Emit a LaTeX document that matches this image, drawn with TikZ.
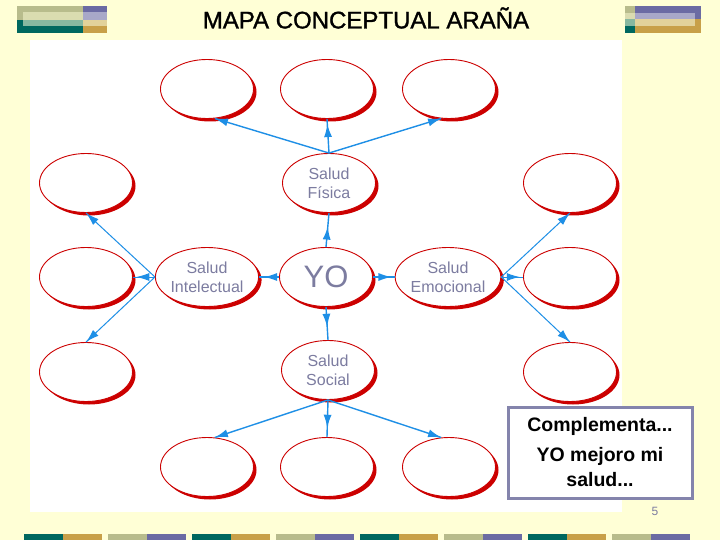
\documentclass[tikz,border=0pt]{standalone}
\usepackage{fontspec}
\setmainfont{Liberation Sans}
\newfontfamily\titlefont{Liberation Sans}[FakeBold=1.2]
\usetikzlibrary{shapes.geometric,arrows.meta,decorations.markings}
\definecolor{bgyellow}{HTML}{FFFFD6}
\definecolor{ered}{HTML}{CC0000}
\definecolor{ablue}{HTML}{1E8FE6}
\definecolor{tgray}{HTML}{7C7CA0}
\definecolor{sage}{HTML}{B8BC8C}
\definecolor{purp}{HTML}{6B6BA3}
\definecolor{pale}{HTML}{DADCB0}
\definecolor{lav}{HTML}{A8A8C8}
\definecolor{lteal}{HTML}{88B8A0}
\definecolor{ptan}{HTML}{E2D29A}
\definecolor{dteal}{HTML}{00685F}
\definecolor{gold}{HTML}{C8A048}
\definecolor{boxpurp}{HTML}{8484AC}
\tikzset{
  bub/.style={ellipse, draw=ered, line width=0.9pt, fill=white,
    minimum width=93pt, minimum height=59pt, inner sep=0pt,
    text=tgray, align=center, font=\fontsize{16}{19}\selectfont,
    preaction={fill=ered, transform canvas={xshift=3pt,yshift=-3pt}}},
  conn/.style={draw=ablue, line width=1.4pt, postaction={decorate},
    decoration={markings, mark=at position #1 with {\arrow[ablue]{Latex[length=13pt,width=8pt]}}}},
  conn/.default=1,
  thin/.style={line width=1pt}
}
\begin{document}
\begin{tikzpicture}[x=1pt,y=-1pt]
\fill[bgyellow] (0,0) rectangle (720,540);
\useasboundingbox (0,0) rectangle (720,540);
\fill[white] (30,40) rectangle (622,512);
% header blocks
\fill[sage] (17,6) rectangle (83,12); \fill[purp] (83,6) rectangle (107,12);
\fill[sage] (17,12) rectangle (23,20); \fill[pale] (23,12) rectangle (83,20); \fill[lav] (83,12) rectangle (107,20);
\fill[dteal] (17,20) rectangle (23,26); \fill[lteal] (23,20) rectangle (83,26); \fill[ptan] (83,20) rectangle (107,26);
\fill[dteal] (17,26) rectangle (83,33); \fill[gold] (83,26) rectangle (107,33);
\fill[sage] (625,6) rectangle (635,13); \fill[purp] (635,6) rectangle (701,13);
\fill[pale] (625,13) rectangle (635,19); \fill[lav] (635,13) rectangle (695,19); \fill[purp] (695,13) rectangle (701,19);
\fill[lteal] (625,19) rectangle (635,26); \fill[ptan] (635,19) rectangle (695,26); \fill[gold] (695,19) rectangle (701,26);
\fill[dteal] (625,26) rectangle (635,33); \fill[gold] (635,26) rectangle (701,33);
% footer
\foreach \i/\ca/\cb in {0/dteal/gold,1/sage/purp,2/dteal/gold,3/sage/purp,4/dteal/gold,5/sage/purp,6/dteal/gold,7/sage/purp}{
  \fill[\ca] ({24+84*\i},534) rectangle ({63+84*\i},540);
  \fill[\cb] ({63+84*\i},534) rectangle ({102+84*\i},540);
}
\node[font=\titlefont\fontsize{24}{28}\selectfont] (title) at (366,18) {MAPA CONCEPTUAL ARAÑA};
% bubbles
\node[bub] (t1) at (207,89) {};
\node[bub] (t2) at (327,89) {};
\node[bub] (t3) at (449,89) {};
\node[bub] (fis) at (329,183) {Salud\\Física};
\node[bub] (int) at (207,277) {Salud\\Intelectual};
\node[bub, font=\fontsize{31}{32}\selectfont] (yo) at (326,277) {YO};
\node[bub] (emo) at (448,277) {Salud\\Emocional};
\node[bub] (soc) at (328,370) {Salud\\Social};
\node[bub] (l1) at (86,183) {};
\node[bub] (l2) at (86,277) {};
\node[bub] (l3) at (86,372) {};
\node[bub] (r1) at (570,183) {};
\node[bub] (r2) at (570,277) {};
\node[bub] (r3) at (570,372) {};
\node[bub] (b1) at (207,467) {};
\node[bub] (b2) at (327,467) {};
\node[bub] (b3) at (449,467) {};
% connectors
\draw[conn] (fis.north) -- (t1.-75);
\draw[conn=0.85] (fis.north) -- (t2.south);
\draw[conn] (fis.north) -- (t3.-105);
\draw[conn=0.6] (yo.north) -- (fis.south);
\draw[conn=0.75] (yo.west) -- (int.east);
\draw[conn=0.85] (yo.east) -- (emo.west);
\draw[conn=0.6] (yo.south) -- (soc.north);
\draw[conn, thin] (int.west) -- (l1.south);
\draw[conn=0.85, thin] (int.west) -- (l2.east);
\draw[conn, thin] (int.west) -- (l3.north);
\draw[conn, thin] (emo.east) -- (r1.south);
\draw[conn=0.85, thin] (emo.east) -- (r2.west);
\draw[conn, thin] (emo.east) -- (r3.north);
\draw[conn] (soc.south) -- (b1.75);
\draw[conn=0.75] (soc.south) -- (b2.north);
\draw[conn] (soc.south) -- (b3.105);
% note box
\node[draw=boxpurp, line width=3pt, fill=white, minimum width=184pt, minimum height=91pt,
  align=center, font=\bfseries\fontsize{19.5}{25}\selectfont, inner sep=0pt] (box) at (600,452.5)
  {Complementa...\\[5pt]YO mejoro mi\\salud...};
\node[text=tgray, font=\fontsize{12}{14}\selectfont] (pnum) at (655,511) {5};
\end{tikzpicture}
\end{document}
